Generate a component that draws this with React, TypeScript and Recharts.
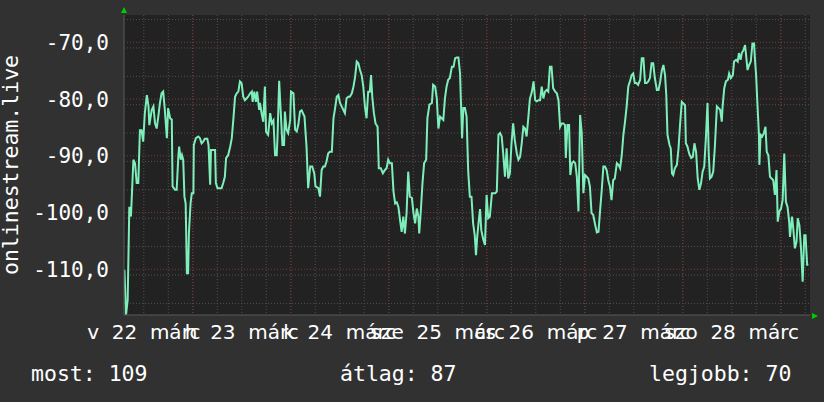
import { CartesianGrid, Line, LineChart, XAxis, YAxis } from "recharts";

// hours since the left edge of the graph (one week = 168 h)
const hours = [
  0.1, 0.5, 0.9, 1.3, 1.7, 2.3, 2.7, 3.1, 3.5, 3.9,
  4.3, 4.7, 5.1, 5.6, 6.0, 6.2, 6.8, 7.2, 7.6, 8.0,
  8.4, 8.8, 9.2, 9.6, 10.0, 10.5, 10.8, 11.3, 11.7, 11.9,
  12.5, 12.9, 13.3, 13.5, 13.9, 14.2, 14.5, 14.8, 15.1, 15.4,
  15.7, 15.9, 16.3, 16.6, 17.0, 17.1, 17.6, 18.2, 18.6, 19.0,
  19.4, 19.8, 20.4, 20.7, 21.1, 21.3, 21.9, 22.3, 22.5, 22.9,
  23.5, 23.9, 24.3, 24.7, 25.0, 25.5, 26.0, 26.4, 26.8, 27.2,
  27.6, 28.0, 28.4, 28.8, 29.2, 29.6, 30.0, 30.4, 30.9, 31.3,
  31.5, 31.9, 32.3, 32.6, 33.1, 33.3, 33.7, 34.1, 34.5, 34.8,
  35.3, 35.8, 36.2, 36.6, 37.0, 37.4, 37.6, 38.0, 38.4, 38.8,
  39.2, 39.4, 39.8, 40.2, 40.7, 40.9, 41.5, 41.9, 42.3, 42.7,
  43.1, 43.5, 44.2, 44.7, 45.1, 45.6, 46.1, 46.6, 46.9, 47.6,
  48.0, 48.4, 48.8, 49.2, 49.6, 50.0, 50.4, 50.9, 51.3, 51.7,
  52.1, 52.5, 52.9, 53.3, 53.7, 54.1, 54.5, 54.9, 55.3, 55.8,
  56.2, 56.6, 57.0, 57.4, 57.8, 58.2, 58.6, 59.0, 59.4, 59.8,
  60.2, 60.5, 60.8, 61.2, 61.6, 62.1, 62.4, 62.9, 63.4, 63.9,
  64.3, 64.7, 65.1, 65.6, 66.0, 66.4, 66.8, 67.2, 67.6, 68.0,
  68.4, 68.8, 69.2, 69.6, 70.0, 70.5, 70.9, 71.3, 71.7, 72.1,
  72.3, 72.7, 73.1, 73.5, 74.0, 74.3, 74.8, 75.4, 75.7, 76.2,
  76.6, 77.0, 77.4, 77.8, 78.2, 78.6, 79.0, 79.4, 79.8, 80.3,
  80.7, 81.1, 81.5, 81.9, 82.3, 82.5, 82.8, 83.1, 83.5, 83.9,
  84.3, 84.7, 85.1, 85.5, 85.9, 86.2, 86.5, 86.9, 87.2, 87.5,
  88.0, 88.4, 88.8, 89.2, 89.6, 90.1, 90.9, 91.3, 91.7, 92.1,
  92.5, 92.9, 93.3, 93.7, 94.1, 94.5, 94.9, 95.3, 95.7, 96.2,
  96.6, 97.0, 97.4, 97.8, 98.2, 98.6, 99.0, 99.4, 99.9, 100.3,
  100.7, 101.1, 101.5, 101.9, 102.3, 102.7, 103.1, 103.5, 103.9, 104.3,
  104.7, 105.1, 105.6, 106.0, 106.4, 106.8, 107.2, 107.6, 108.0, 108.2,
  108.6, 109.0, 109.3, 109.7, 110.1, 110.5, 110.9, 111.3, 111.7, 112.1,
  112.5, 112.9, 113.3, 113.7, 114.1, 114.5, 114.9, 115.4, 115.8, 116.2,
  116.6, 117.0, 117.4, 117.8, 118.2, 118.6, 119.0, 119.4, 119.8, 120.2,
  120.7, 121.1, 121.5, 121.9, 122.3, 122.7, 123.1, 123.5, 123.9, 124.3,
  124.7, 125.1, 125.5, 125.9, 126.4, 126.8, 127.2, 127.6, 128.0, 128.4,
  128.8, 129.2, 129.6, 130.0, 130.5, 130.9, 131.3, 131.7, 132.1, 132.5,
  132.8, 133.1, 133.6, 133.9, 134.2, 134.5, 134.9, 135.4, 135.8, 136.2,
  136.6, 137.0, 137.4, 137.6, 138.0, 138.4, 138.9, 139.3, 139.7, 140.1,
  140.5, 140.9, 141.3, 141.7, 142.1, 142.5, 142.9, 143.2, 143.5, 143.9,
  144.3, 144.7, 145.2, 145.6, 146.0, 146.4, 146.6, 147.0, 147.4, 147.9,
  148.2, 148.6, 149.1, 149.4, 149.9, 150.3, 150.6, 151.0, 151.3, 151.7,
  152.1, 152.3, 152.7, 153.1, 153.5, 153.9, 154.3, 154.5, 154.8, 155.1,
  155.5, 155.6, 155.9, 156.3, 156.7, 157.1, 157.4, 157.8, 158.2, 158.6,
  159.0, 159.4, 159.8, 160.1, 160.5, 160.9, 161.3, 161.7, 162.1, 162.5,
  162.9, 163.1, 163.6, 163.9, 164.3, 164.7, 165.0, 165.4, 165.8, 166.2,
  166.6, 166.9, 167.3, 167.6,
];

// signal level
const signal = [
  -110.1, -118, -115.4, -99, -100.7, -90.7, -91.3, -94.8, -94.8, -85.5,
  -85.5, -87.5, -82.5, -79.3, -81.3, -84.6, -81.9, -81.3, -84.3, -85.2,
  -83.1, -80.7, -79, -78.7, -81.9, -86.9, -81.6, -83.4, -83.6, -95.4,
  -96, -96, -90.2, -88.4, -90.7, -89.9, -90.7, -97.2, -98.4, -110.7,
  -110.7, -103.6, -98.4, -96.6, -96.6, -88.1, -86.9, -86.6, -86.9, -87.8,
  -87.5, -87, -87, -88.1, -95.1, -89, -89, -89, -94.8, -95.7,
  -95.7, -95.7, -94.8, -93.7, -90.4, -89.9, -88.4, -86.9, -83.4, -79.6,
  -79, -78.7, -76.9, -77.2, -79.6, -80.2, -79.9, -79.6, -79, -78.7,
  -80.5, -78.7, -80.5, -78.7, -81.9, -80.7, -82.5, -84, -77.8, -85.8,
  -86.3, -82.5, -84.3, -83.8, -89.9, -89.9, -86.6, -76.8, -82.5, -88.1,
  -88.1, -82.2, -85.4, -86, -83.7, -78.7, -79, -85.4, -85.7, -84.5,
  -82.2, -82, -83.1, -88.4, -95.7, -91.9, -91.9, -93.1, -95.4, -95.7,
  -97.2, -92.5, -91.9, -91.9, -91, -89.6, -89.3, -89.3, -83.4, -81.6,
  -79.6, -79.3, -80.7, -81.3, -81.9, -82.5, -79.9, -79.6, -79.6, -79,
  -77.8, -76.1, -73.4, -73.7, -74.9, -75.8, -77.8, -81.3, -83.4, -78.7,
  -78.7, -75.8, -79.6, -82.5, -84.3, -84.9, -92.2, -92.2, -93.1, -92.5,
  -92.2, -90.7, -91.3, -91.3, -96.3, -98.4, -98.2, -99, -101.3, -103.4,
  -100.7, -103.7, -100.1, -92.8, -97.2, -97.4, -100.1, -101.9, -99.3, -100.7,
  -103.7, -99.6, -94.8, -91.3, -90.7, -83.4, -81, -80.7, -77.5, -77.8,
  -79.9, -85.2, -83.1, -83.4, -83.7, -79.9, -77.8, -76.6, -76.3, -74.3,
  -74.3, -72.8, -72.7, -72.7, -75.5, -80.2, -86.9, -81.6, -81.6, -83.1,
  -92.8, -97.2, -97.2, -101.9, -104, -107.5, -104.3, -101.3, -99.4, -103.1,
  -104.8, -105.7, -96.9, -101, -100.7, -96.6, -96.6, -96.3, -86.3, -86,
  -86.6, -89.9, -93.7, -88.7, -94, -93.1, -87.8, -84.3, -87.2, -89.6,
  -90.7, -90.2, -87.8, -84.9, -85.2, -86.6, -83.4, -80, -78.7, -76.9,
  -80.2, -80.4, -80.2, -80.2, -77.8, -79.9, -78.7, -78.4, -78.7, -74.3,
  -74.3, -78.1, -78.7, -79, -80.2, -84.9, -84.3, -84.3, -84.6, -90.4,
  -84.6, -84.6, -93.4, -91.3, -91, -91.3, -93.7, -99.8, -82.8, -86,
  -96.6, -93.4, -93.7, -94, -95.4, -100.1, -100.4, -102.2, -103.5, -103.4,
  -99.6, -96, -91.9, -91.9, -92.5, -94.3, -95.4, -97.8, -94.3, -94,
  -91.3, -91.6, -92.2, -89.9, -86.3, -84, -81.3, -77.8, -76.9, -75.8,
  -75.5, -77.2, -77.2, -77.5, -76.6, -72.8, -72.8, -77.2, -77.2, -76.9,
  -76.3, -73.7, -73.7, -76.3, -78.4, -78.4, -77, -75, -74, -75.8,
  -79.3, -86.3, -88.1, -88.7, -93.1, -93.4, -92.2, -91.6, -88.7, -84.3,
  -80.5, -80.8, -81.1, -87.8, -88.4, -89.6, -90.4, -90.2, -87.8, -89.3,
  -94, -96, -94.9, -92.8, -91.9, -86.9, -80.7, -89.6, -94, -93.7,
  -92.8, -88.4, -81.3, -81.6, -81.9, -84, -81.3, -78.1, -76.9, -76.6,
  -75.5, -76.3, -75.8, -73.4, -73.1, -73.4, -71.9, -73.1, -71.9, -71.4,
  -70.5, -71.9, -74.9, -74, -73.4, -70.2, -70.2, -72.8, -75.8, -80.5,
  -86.3, -91.6, -86.3, -86.6, -86, -84.9, -89.3, -89.9, -93.7, -94,
  -94.3, -96.9, -92.5, -101.6, -99.8, -99.3, -97.8, -89.6, -98.1, -99,
  -101.6, -104.3, -100.7, -102.8, -106.3, -105.1, -101, -102.2, -106.3, -112.2,
  -104, -104, -109.2, -109.2,
];

// day labels use two spaces between the parts, as in the original graph
const dayLabels = [
  "v\u00a0\u00a022\u00a0\u00a0márc",
  "h\u00a0\u00a023\u00a0\u00a0márc",
  "k\u00a0\u00a024\u00a0\u00a0márc",
  "sze\u00a0\u00a025\u00a0\u00a0márc",
  "cs\u00a0\u00a026\u00a0\u00a0márc",
  "p\u00a0\u00a027\u00a0\u00a0márc",
  "szo\u00a0\u00a028\u00a0\u00a0márc",
];
const dayLabelHours = [4.85, 28.85, 52.85, 76.85, 100.85, 124.85, 148.85];
const minorHourLines = Array.from({ length: 28 }, (_, k) => 4.85 + 6 * k);
const majorHourLines = minorHourLines.filter((_, k) => k % 4 === 2);
const yTicks = [-110, -100, -90, -80, -70];
const minorLevelLines = Array.from({ length: 53 }, (_, k) => -118 + k);
const yDomain = [-118.05, -65.2];
const legendItems = [
  { label: "most: 109", x: 31 },
  { label: "átlag: 87", x: 340 },
  { label: "legjobb: 70", x: 649 },
];

const data = hours.map((t, i) => ({ t, v: signal[i] }));

const MONO = "'DejaVu Sans Mono', monospace";
const SANS = "'DejaVu Sans', sans-serif";

function XTick(props: any) {
  const { x, y, payload } = props;
  const i = dayLabelHours.indexOf(payload.value);
  return (
    <text x={x} y={y + 24} textAnchor="middle" fill="#ffffff" fontSize={20} fontFamily={SANS}>
      {dayLabels[i] ?? ""}
    </text>
  );
}

function YTick(props: any) {
  const { x, y, payload } = props;
  return (
    <text x={x} y={y + 7.5} textAnchor="end" fill="#ffffff" fontSize={21} fontFamily={MONO}>
      {payload.value.toFixed(1).replace(".", ",")}
    </text>
  );
}

export default function App() {
  return (
    <div
      style={{
        position: "absolute",
        left: 0,
        top: 0,
        width: 824,
        height: 402,
        background: "#313131",
        overflow: "hidden",
      }}
    >
      <LineChart width={824} height={402} data={data} margin={{ top: 15, right: 14, bottom: 0, left: 0 }}>
        <CartesianGrid
          fill="#222222"
          fillOpacity={1}
          stroke="#515151"
          strokeDasharray="1 2"
          horizontalValues={minorLevelLines}
          verticalValues={minorHourLines}
        />
        <CartesianGrid
          stroke="#7e3636"
          strokeDasharray="1 2"
          horizontalValues={yTicks}
          verticalValues={majorHourLines}
        />
        <XAxis
          dataKey="t"
          type="number"
          domain={[0, 168]}
          ticks={dayLabelHours}
          interval={0}
          height={87}
          tickSize={0}
          tickMargin={0}
          tickLine={false}
          axisLine={{ stroke: "#5a5a5a" }}
          tick={<XTick />}
          allowDataOverflow
        />
        <YAxis
          type="number"
          domain={yDomain}
          ticks={yTicks}
          width={124}
          tickSize={0}
          tickMargin={15}
          tickLine={false}
          axisLine={{ stroke: "#5a5a5a" }}
          tick={<YTick />}
          allowDataOverflow
        />
        <Line
          type="linear"
          dataKey="v"
          stroke="#7eefbb"
          strokeWidth={2}
          dot={false}
          activeDot={false}
          isAnimationActive={false}
        />
      </LineChart>
      <svg width={824} height={402} style={{ position: "absolute", left: 0, top: 0, pointerEvents: "none" }}>
        <polygon points="121,13 127,13 124,7" fill="#00cc00" />
        <polygon points="812,313 812,319 818,316" fill="#00cc00" />
        <text
          transform="translate(18,165) rotate(-90)"
          textAnchor="middle"
          fill="#ffffff"
          fontSize={21.5}
          fontFamily={MONO}
        >
          onlinestream.live
        </text>
        {legendItems.map((item) => (
          <text key={item.label} x={item.x} y={381} fill="#ffffff" fontSize={21.5} fontFamily={MONO}>
            {item.label}
          </text>
        ))}
      </svg>
    </div>
  );
}
